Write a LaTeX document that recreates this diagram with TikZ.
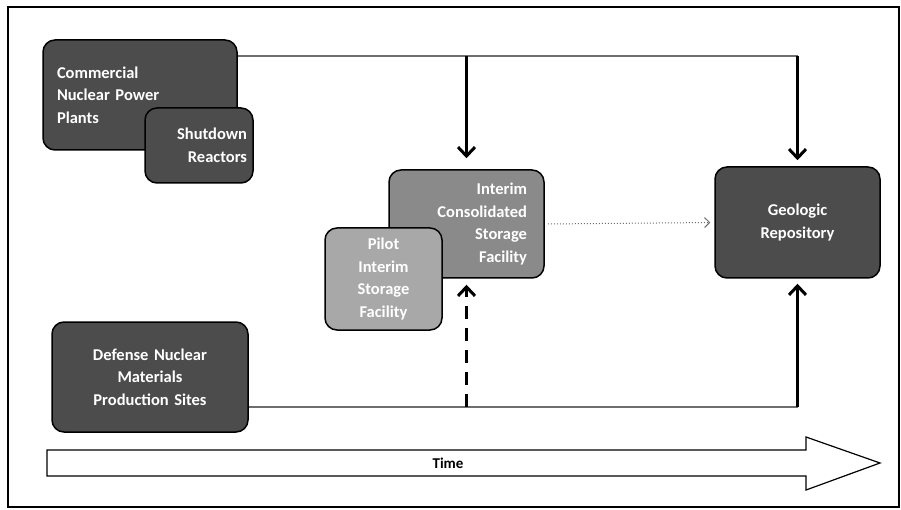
\documentclass[tikz,border=0pt]{standalone}
\usepackage{fontspec}
\setmainfont{Carlito}
\usepackage{tikz}
\usetikzlibrary{arrows.meta, positioning}

\definecolor{darkfill}{HTML}{4C4C4C}
\definecolor{midfill}{HTML}{8A8A8A}
\definecolor{lightfill}{HTML}{A8A8A8}
\definecolor{linegray}{HTML}{6E6E6E}

\tikzset{
	facility/.style={draw=black, line width=1.5pt, rounded corners=12pt, fill=darkfill, text=white, font=\bfseries\fontsize{16.5}{22.5}\selectfont, inner sep=0pt},
	feedline/.style={draw=linegray, line width=2pt},
	bigarrow/.style={draw=black, line width=3pt, -{Straight Barb[length=9pt,width=17pt]}},
}

\begin{document}
\begin{tikzpicture}[x=1pt, y=-1pt]
	\useasboundingbox (0,0) rectangle (901,510);
	\draw[line width=1.5pt] (8,7) rectangle (899,507);

	\node[facility, minimum width=194pt, minimum height=110pt, text width=166pt, align=left] (cnpp) at (140,95) {Commercial\\Nuclear Power\\Plants};
	\node[facility, minimum width=108pt, minimum height=75pt, text width=96pt, align=right] (shut) at (199,145.5) {Shutdown\\Reactors};
	\node[facility, minimum width=196pt, minimum height=110pt, text width=180pt, align=center] (dnm) at (150,377) {Defense Nuclear\\Materials\\Production Sites};
	\node[facility, fill=midfill, minimum width=155pt, minimum height=108pt, text width=121pt, align=right] (icsf) at (466.5,224) {Interim\\Consolidated\\Storage\\Facility};
	\node[facility, fill=lightfill, minimum width=117pt, minimum height=102pt, text width=100pt, align=center] (pisf) at (383.5,279) {Pilot\\Interim\\Storage\\Facility};
	\node[facility, minimum width=165pt, minimum height=111pt, text width=150pt, align=center] (geo) at (797.5,222.5) {Geologic\\Repository};

	\coordinate (topright) at (geo.north |- 0,56);
	\coordinate (botright) at (geo.south |- 0,407);

	\draw[feedline] (cnpp.east |- topright) -- (topright);
	\draw[bigarrow, shorten >=11pt] (icsf.north |- topright) -- (icsf.north);
	\draw[bigarrow, shorten >=6pt] (topright) -- (geo.north);

	\draw[feedline] (dnm.east |- botright) -- (botright);
	\draw[bigarrow, shorten >=5pt] (botright) -- (geo.south);
	\draw[bigarrow, dash pattern=on 13pt off 9pt, shorten >=6pt] (icsf.south |- botright) -- (icsf.south);

	\draw[linegray, line width=1pt, dotted, -{Straight Barb[length=5pt,width=10pt]}, shorten <=3pt, shorten >=4pt] (icsf.east) -- (geo.west);

	\draw[line width=1.2pt, fill=white] (47,450) -- (806,450) -- (806,437) -- (880,463) -- (806,490) -- (806,476) -- (47,476) -- cycle;
	\node[font=\bfseries\fontsize{15}{17}\selectfont] (time) at (448,463) {Time};
\end{tikzpicture}
\end{document}
